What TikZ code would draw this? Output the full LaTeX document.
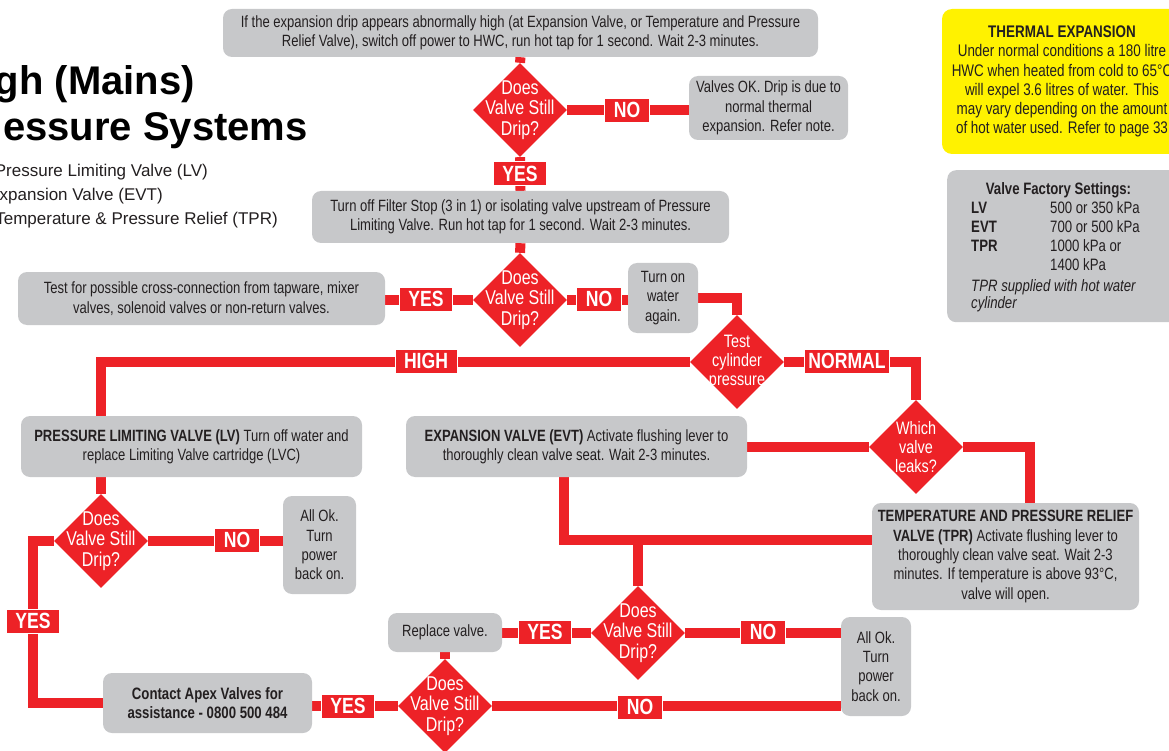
\documentclass[tikz,border=0pt]{standalone}
\usepackage{fontspec}
\setmainfont{Liberation Sans}[FakeStretch=0.8]
\newfontfamily\titlefont{Liberation Sans}
\usepackage{xcolor}
\usetikzlibrary{shapes.geometric, positioning, backgrounds, calc}

\definecolor{flowred}{HTML}{ED2227}
\definecolor{boxgray}{HTML}{C7C8CA}
\definecolor{noteyellow}{HTML}{FFF200}
\definecolor{inkblack}{HTML}{231F20}

\begin{document}
\begin{tikzpicture}[
  x=1pt, y=-1pt,
  stepbox/.style  = {rectangle, rounded corners=9pt, fill=boxgray, text=inkblack,
                     align=center, inner sep=0pt, font=\fontsize{16.3}{19.3}\selectfont},
  notebox/.style  = {stepbox, fill=noteyellow, rounded corners=10pt,
                     font=\fontsize{16.8}{19.2}\selectfont},
  diashape/.style = {diamond, fill=flowred, inner sep=0pt,
                     minimum width=94pt, minimum height=94pt},
  decision/.style = {diashape, label={[dtext]center:#1}},
  query/.style    = {diashape, label={[qtext]center:#1}},
  dtext/.style    = {text=white, align=center, font=\fontsize{20}{20.5}\selectfont},
  qtext/.style    = {text=white, align=center, font=\fontsize{18}{18.7}\selectfont},
  answer/.style   = {rectangle, fill=flowred, draw=white, line width=0.8pt, text=white,
                     inner xsep=9pt, inner ysep=0pt, minimum height=24pt,
                     font=\fontsize{22}{22}\selectfont\bfseries},
  flow/.style     = {draw=flowred, line width=10pt},
  heading/.style  = {anchor=base east, inner sep=0pt, text=black,
                     font=\titlefont\bfseries\fontsize{40}{46}\selectfont},
  keyline/.style  = {anchor=base east, inner sep=0pt, text=inkblack,
                     font=\titlefont\fontsize{17}{24}\selectfont}
]
\useasboundingbox (0,0) rectangle (1169,751);

% --- title and key (cut at the page edge) ---
\node[heading] (titlea) at (195,95)  {gh (Mains)};
\node[heading] (titleb) at (308,141) {essure Systems};
\node[keyline] (keylv)  at (208,177) {Pressure Limiting Valve (LV)};
\node[keyline] (keyevt) at (163,201) {Expansion Valve (EVT)};
\node[keyline] (keytpr) at (278,225) {Temperature \& Pressure Relief (TPR)};

% --- side notes ---
\node[notebox, minimum width=240, minimum height=145] (thermal) at (1062,81.5)
  {\textbf{THERMAL EXPANSION}\\Under normal conditions a 180 litre\\HWC when heated from cold to 65°C\\will expel 3.6 litres of water. This\\may vary depending on the amount\\of hot water used. Refer to page 33};
\node[stepbox, anchor=north west, minimum width=240, minimum height=152] (settings) at (947,170) {};
\node[anchor=north west, inner sep=0pt, text=inkblack, align=left,
      font=\fontsize{16.5}{19}\selectfont] (settingstext) at (971,181)
  {\begin{tabular}{@{}p{79pt}@{}l@{}}
    \multicolumn{2}{@{}c@{}}{\hspace*{6pt}\bfseries Valve Factory Settings:}\\
    \bfseries LV  & 500 or 350 kPa\\
    \bfseries EVT & 700 or 500 kPa\\
    \bfseries TPR & 1000 kPa or\\
                  & 1400 kPa\\[2pt]
    \multicolumn{2}{@{}l@{}}{\itshape TPR supplied with hot water}\\[-2pt]
    \multicolumn{2}{@{}l@{}}{\itshape cylinder}
   \end{tabular}};

% --- top of the chart ---
\node[stepbox, minimum width=595, minimum height=48] (expdrip) at (520.5,33)
  {If the expansion drip appears abnormally high (at Expansion Valve, or Temperature and Pressure\\Relief Valve), switch off power to HWC, run hot tap for 1 second. Wait 2-3 minutes.};
\node[decision={Does\\Valve Still\\Drip?}] (dripa) at (520,110) {};
\node[stepbox, minimum width=159, minimum height=64] (valvesok) at (768.5,108)
  {Valves OK. Drip is due to\\normal thermal\\expansion. Refer note.};
\node[stepbox, minimum width=417, minimum height=52] (filterstop) at (520.5,217)
  {Turn off Filter Stop (3 in 1) or isolating valve upstream of Pressure\\Limiting Valve. Run hot tap for 1 second. Wait 2-3 minutes.};
\node[decision={Does\\Valve Still\\Drip?}] (dripb) at (520,300) {};
\node[stepbox, minimum width=367, minimum height=53] (crosscon) at (201.5,298.5)
  {Test for possible cross-connection from tapware, mixer\\valves, solenoid valves or non-return valves.};
\node[stepbox, minimum width=70, minimum height=70] (wateron) at (663,298)
  {Turn on\\water\\again.};
\node[query={Test\\cylinder\\pressure}] (cylpress) at (737,362) {};

% --- middle row ---
\node[stepbox, minimum width=341, minimum height=61] (lvbox) at (191.5,446.5)
  {\textbf{PRESSURE LIMITING VALVE (LV)} Turn off water and\\replace Limiting Valve cartridge (LVC)};
\node[stepbox, minimum width=341, minimum height=61] (evtbox) at (576.5,446.5)
  {\textbf{EXPANSION VALVE (EVT)} Activate flushing lever to\\thoroughly clean valve seat. Wait 2-3 minutes.};
\node[query={Which\\valve\\leaks?}] (whichleak) at (916,447) {};
\node[stepbox, minimum width=267, minimum height=107] (tprbox) at (1005.5,556.5)
  {\textbf{TEMPERATURE AND PRESSURE RELIEF}\\\textbf{VALVE (TPR)} Activate flushing lever to\\thoroughly clean valve seat. Wait 2-3\\minutes. If temperature is above 93°C,\\valve will open.};

% --- bottom part ---
\node[decision={Does\\Valve Still\\Drip?}] (dripc) at (101,541) {};
\node[stepbox, minimum width=73, minimum height=98] (allokl) at (319.5,545)
  {All Ok.\\Turn\\power\\back on.};
\node[stepbox, minimum width=209, minimum height=60, font=\fontsize{16.5}{19.3}\selectfont\bfseries] (contact) at (207.5,703)
  {Contact Apex Valves for\\assistance - 0800 500 484};
\node[decision={Does\\Valve Still\\Drip?}] (dripd) at (638,633) {};
\node[stepbox, minimum width=114, minimum height=39] (replace) at (445,632.5) {Replace valve.};
\node[stepbox, minimum width=70, minimum height=99] (allokr) at (876,666.5)
  {All Ok.\\Turn\\power\\back on.};
\node[decision={Does\\Valve Still\\Drip?}] (dripe) at (445,706) {};
\coordinate (evtjoin) at (638,540);

% --- answers on the lines ---
\node[answer] (noa)    at (627,110)   {NO};
\node[answer] (yesa)   at (520,173.5) {YES};
\node[answer] (yesb)   at (426,299)   {YES};
\node[answer] (nob)    at (599,299)   {NO};
\node[answer] (high)   at (426,361)   {HIGH};
\node[answer, inner xsep=4pt] (normal) at (847,361) {NORMAL};
\node[answer] (noc)    at (237,540)   {NO};
\node[answer] (yesc)   at (33,621)    {YES};
\node[answer] (yesd)   at (545,632)   {YES};
\node[answer] (nod)    at (763,632)   {NO};
\node[answer] (yese)   at (348,706)   {YES};
\node[answer] (noe)    at (640,707)   {NO};

% --- connectors, under the boxes ---
\begin{scope}[on background layer]
\draw[flow] (expdrip.south) -- (dripa.north);
\draw[flow] (dripa.east) -- (dripa.east -| valvesok.west);
\draw[flow] (dripa.south) -- (filterstop.north);
\draw[flow] (filterstop.south) -- (dripb.north);
\draw[flow] (dripb.west) -- (dripb.west -| crosscon.east);
\draw[flow] (dripb.east) -- (dripb.east -| wateron.west);
\draw[flow] (wateron.east) -| (cylpress.north);
\draw[flow] (cylpress.west) -| (dripc.north |- lvbox.north);
\draw[flow] (cylpress.east) -| (whichleak.north);
\draw[flow] (whichleak.west) -- (whichleak.west -| evtbox.east);
\draw[flow] (whichleak.east) -| ($(tprbox.north)+(24.5,0)$);
\draw[flow] (dripc.north |- lvbox.south) -- (dripc.north);
\draw[flow] (dripc.east) -- (dripc.east -| allokl.west);
\draw[flow] (dripc.west) -- ++(-21,0) |- (contact.west);
\draw[flow] ($(evtbox.south)+(-12.5,0)$) |- (evtjoin) -- (evtjoin -| tprbox.west);
\draw[flow] (evtjoin) -- (dripd.north);
\draw[flow] (dripd.west) -- (dripd.west -| replace.east);
\draw[flow] (dripd.east) -- (dripd.east -| allokr.west);
\draw[flow] (replace.south) -- (dripe.north);
\draw[flow] (dripe.west) -- (dripe.west -| contact.east);
\draw[flow] (dripe.east) -- (dripe.east -| allokr.west);
\end{scope}
\end{tikzpicture}
\end{document}
